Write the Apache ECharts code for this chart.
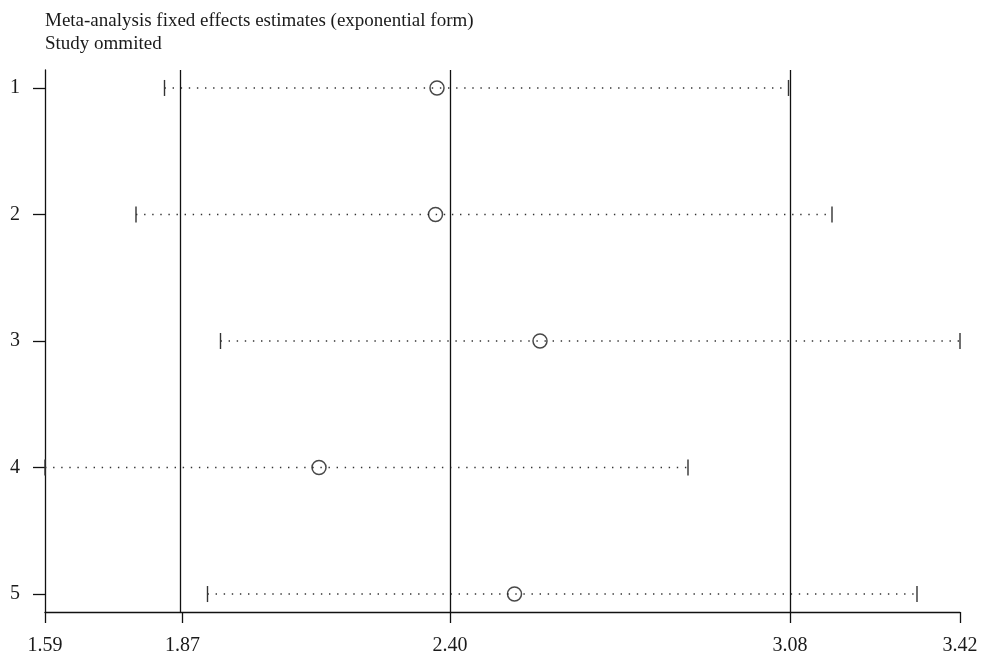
<!DOCTYPE html>
<html>
<head>
<meta charset="utf-8">
<script src="https://cdn.jsdelivr.net/npm/echarts@6/dist/echarts.min.js"></script>
<style>html,body{margin:0;padding:0;background:#fff}#c{width:986px;height:657px}</style>
</head>
<body>
<div id="c"></div>
<script>
var studies = [1, 2, 3, 4, 5];
var lower = [1.829, 1.772, 1.941, 1.59, 1.915];
var estimate = [2.374, 2.371, 2.580, 2.138, 2.529];
var upper = [3.077, 3.164, 3.42, 2.876, 3.334];
var refLines = [1.865, 2.40, 3.08];
var tickValues = [1.59, 1.865, 2.40, 3.08, 3.42];
var tickLabels = ['1.59', '1.87', '2.40', '3.08', '3.42'];
var titleLines = ['Meta-analysis fixed effects estimates (exponential form)', 'Study ommited'];

var FONT = '"Liberation Serif", "DejaVu Serif", serif';
var chart = echarts.init(document.getElementById('c'));

var ciData = studies.map(function (s, i) { return [s, lower[i], upper[i]]; });
var estData = studies.map(function (s, i) { return [estimate[i], s]; });

chart.setOption({
  animation: false,
  backgroundColor: '#fff',
  title: {
    text: titleLines.join('\n'),
    left: 45, top: 9, padding: 0,
    textStyle: { fontFamily: FONT, fontSize: 19, fontWeight: 'normal', color: '#1a1a1a', lineHeight: 23.5 }
  },
  grid: { left: 45, right: 26, top: 70, bottom: 45 },
  xAxis: {
    type: 'value', min: 1.59, max: 3.42,
    axisLine: { show: true, lineStyle: { color: '#111', width: 1.3 } },
    axisTick: { show: true, length: 11, customValues: tickValues, lineStyle: { color: '#111', width: 1.3 } },
    axisLabel: {
      customValues: tickValues, margin: 24,
      fontFamily: FONT, fontSize: 20, color: '#1a1a1a',
      formatter: function (v) {
        var idx = 0, best = 1e9;
        tickValues.forEach(function (t, i) { if (Math.abs(t - v) < best) { best = Math.abs(t - v); idx = i; } });
        return tickLabels[idx];
      }
    },
    splitLine: { show: false }
  },
  yAxis: {
    type: 'value', inverse: true, min: 0.858, max: 5.142,
    axisLine: { show: true, lineStyle: { color: '#111', width: 1.3 } },
    axisTick: { show: true, length: 12, customValues: studies, lineStyle: { color: '#111', width: 1.3 } },
    axisLabel: { customValues: studies, margin: 25, fontFamily: FONT, fontSize: 20, color: '#1a1a1a' },
    splitLine: { show: false }
  },
  series: [
    {
      type: 'custom',
      data: ciData,
      encode: { x: [1, 2], y: 0 },
      renderItem: function (params, api) {
        var y = api.value(0);
        var p1 = api.coord([api.value(1), y]);
        var p2 = api.coord([api.value(2), y]);
        var h = 8;
        return {
          type: 'group',
          children: [
            { type: 'line', shape: { x1: p1[0], y1: p1[1], x2: p2[0], y2: p2[1] },
              style: { stroke: '#333', lineWidth: 1.4, lineDash: [1.4, 6.7] } },
            { type: 'line', shape: { x1: p1[0], y1: p1[1] - h, x2: p1[0], y2: p1[1] + h },
              style: { stroke: '#333', lineWidth: 1.4 } },
            { type: 'line', shape: { x1: p2[0], y1: p2[1] - h, x2: p2[0], y2: p2[1] + h },
              style: { stroke: '#333', lineWidth: 1.4 } }
          ]
        };
      },
      z: 2
    },
    {
      type: 'scatter',
      data: estData,
      symbol: 'circle',
      symbolSize: 14,
      itemStyle: { color: 'rgba(0,0,0,0)', borderColor: '#1a1a1a', borderWidth: 1.5 },
      z: 4,
      markLine: {
        silent: true,
        symbol: ['none', 'none'],
        label: { show: false },
        lineStyle: { color: '#111', width: 1.3, type: 'solid' },
        data: refLines.map(function (v) { return { xAxis: v }; })
      }
    }
  ]
});
</script>
</body>
</html>
